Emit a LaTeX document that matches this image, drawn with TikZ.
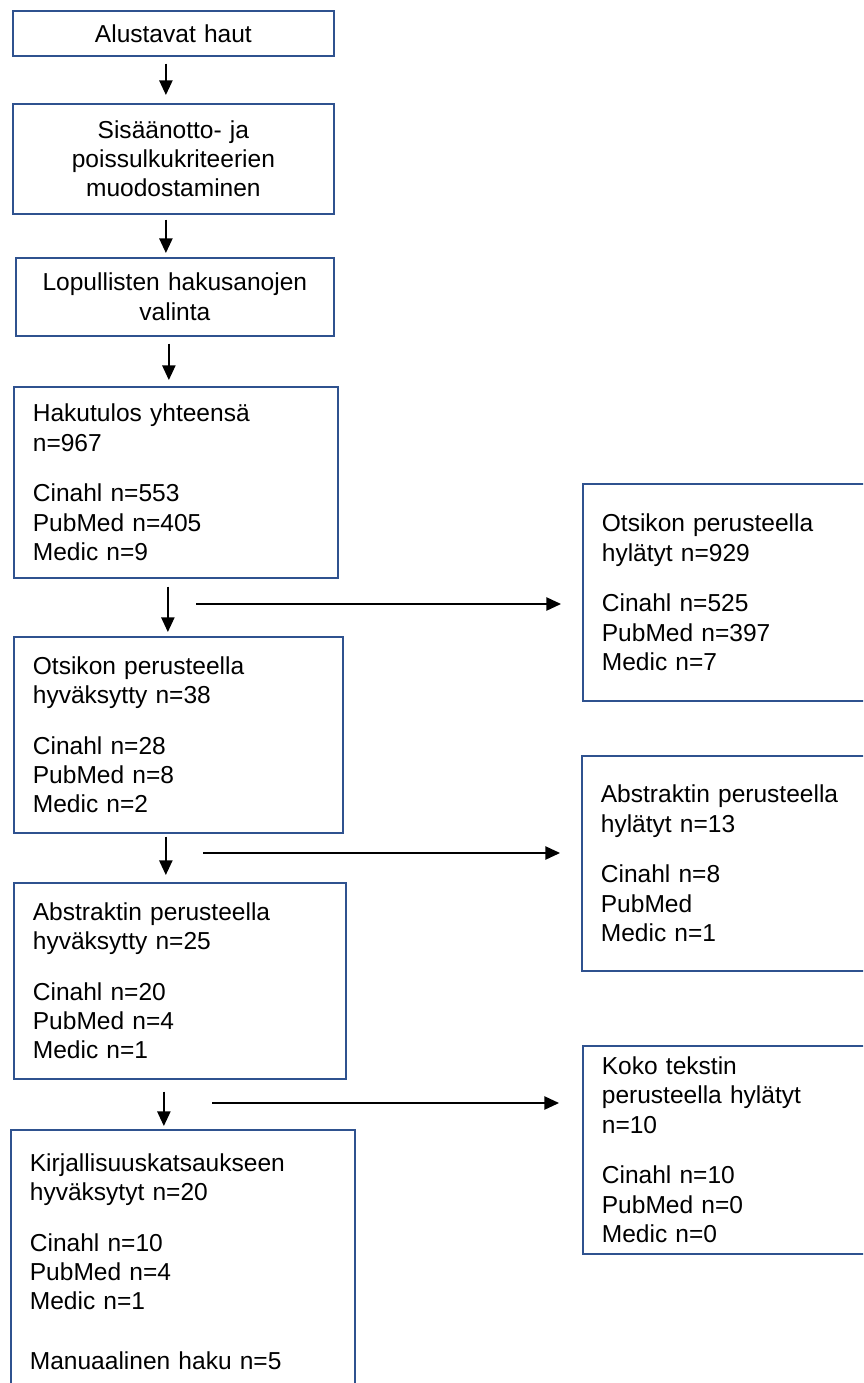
\documentclass[tikz,border=0pt]{standalone}
\usepackage{fontspec}
\setmainfont{Liberation Sans}
\usetikzlibrary{arrows.meta,calc}
\definecolor{boxblue}{HTML}{2F528F}
\tikzset{
  box/.style={draw=boxblue, line width=1.3pt, anchor=north west, inner xsep=14.25pt, inner ysep=0pt,
    font=\fontsize{18.4}{22}\selectfont},
  midbox/.style={box, align=center},
  listbox/.style={box, align=left},
  arr/.style={-{Triangle[length=11pt,width=10pt]}, line width=1.1pt},
}
\begin{document}
\begin{tikzpicture}[x=0.75pt,y=-0.75pt]

  \useasboundingbox (0,0) rectangle (863,1383);
  \clip (0,0) rectangle (863,1383); % the right boxes and the last box run off the page

  % main column
  \node[midbox, text width=212.25pt, minimum height=33.75pt] (haut) at (12,10) {Alustavat haut};
  \node[midbox, text width=212.25pt, minimum height=82.5pt] (kriteerit) at (12,103)
    {Sisäänotto- ja\\poissulkukriteerien\\muodostaminen};
  \node[midbox, text width=210pt, minimum height=58.5pt] (hakusanat) at (15,257)
    {Lopullisten hakusanojen\\valinta};
  \node[listbox, text width=214.5pt, minimum height=143.25pt] (tulos) at (13,386)
    {Hakutulos yhteensä\\n=967\\[16pt]Cinahl n=553\\PubMed n=405\\Medic n=9};
  \node[listbox, text width=218.25pt, minimum height=147pt] (otsikko) at (13,636)
    {Otsikon perusteella\\hyväksytty n=38\\[16pt]Cinahl n=28\\PubMed n=8\\Medic n=2};
  \node[listbox, text width=220.5pt, minimum height=147pt] (abstrakti) at (13,882)
    {Abstraktin perusteella\\hyväksytty n=25\\[16pt]Cinahl n=20\\PubMed n=4\\Medic n=1};
  \node[listbox, text width=229.5pt, minimum height=198pt] (katsaus) at (10,1129)
    {Kirjallisuuskatsaukseen\\hyväksytyt n=20\\[16pt]Cinahl n=10\\PubMed n=4\\Medic n=1\\[23pt]Manuaalinen haku n=5};

  % rejected, right column
  \node[listbox, text width=195pt, minimum height=162.75pt] (hylotsikko) at (582,483)
    {Otsikon perusteella\\hylätyt n=929\\[16pt]Cinahl n=525\\PubMed n=397\\Medic n=7};
  \node[listbox, text width=195pt, minimum height=161.25pt] (hylabstrakti) at (581,755)
    {Abstraktin perusteella\\hylätyt n=13\\[16pt]Cinahl n=8\\PubMed\\Medic n=1};
  \node[listbox, text width=195pt, minimum height=156pt] (hylteksti) at (582,1045)
    {Koko tekstin\\perusteella hylätyt\\n=10\\[16pt]Cinahl n=10\\PubMed n=0\\Medic n=0};

  % arrows down
  \draw[arr, shorten <=5.25pt, shorten >=6pt] ([xshift=-5.6pt]haut.south) -- ([xshift=-5.6pt]haut.south |- kriteerit.north);
  \draw[arr, shorten <=3.75pt, shorten >=3pt] ([xshift=-5.6pt]kriteerit.south) -- ([xshift=-5.6pt]kriteerit.south |- hakusanat.north);
  \draw[arr, shorten <=5.25pt, shorten >=4.5pt] ([xshift=-4.5pt]hakusanat.south) -- ([xshift=-4.5pt]hakusanat.south |- tulos.north);
  \draw[arr, shorten <=6pt, shorten >=3pt] ([xshift=-6pt]tulos.south) -- ([xshift=-6pt]tulos.south |- otsikko.north);
  \draw[arr, shorten <=2.25pt, shorten >=5.25pt] ([xshift=-9.4pt]otsikko.south) -- ([xshift=-9.4pt]otsikko.south |- abstrakti.north);
  \draw[arr, shorten <=9pt, shorten >=2.25pt] ([xshift=-12pt]abstrakti.south) -- ([xshift=-12pt]abstrakti.south |- katsaus.north);

  % arrows to the right
  \coordinate (pois1) at (196,604);
  \coordinate (pois2) at (203,853);
  \coordinate (pois3) at (212,1103);
  \draw[arr, shorten >=15.75pt] (pois1) -- (pois1 -| hylotsikko.west);
  \draw[arr, shorten >=15.75pt] (pois2) -- (pois2 -| hylabstrakti.west);
  \draw[arr, shorten >=17.25pt] (pois3) -- (pois3 -| hylteksti.west);

\end{tikzpicture}
\end{document}
